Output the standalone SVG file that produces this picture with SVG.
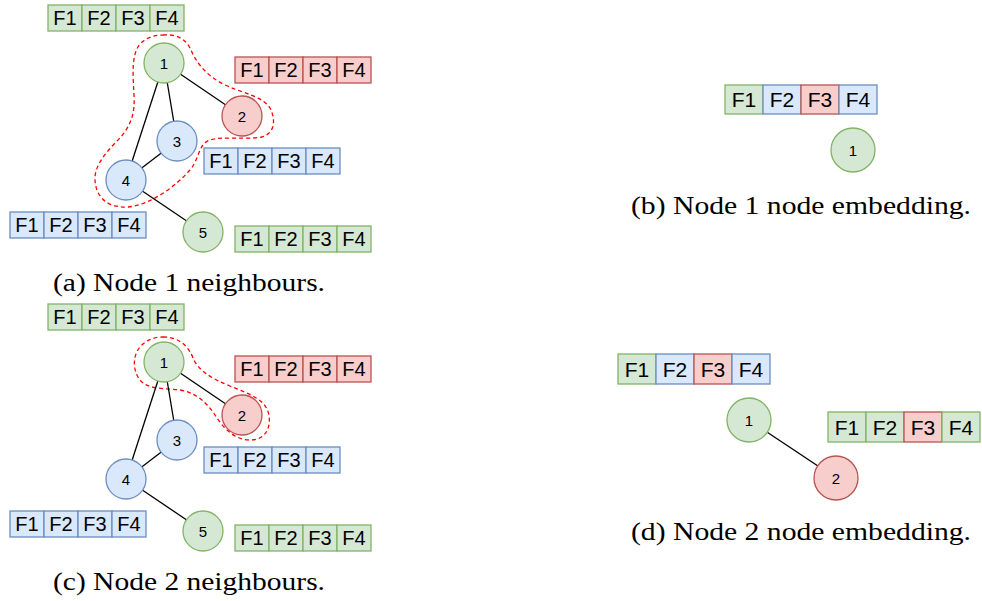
<svg xmlns="http://www.w3.org/2000/svg" width="982" height="601" viewBox="0 0 982 601">
  <style>
    .g { fill: #d5e8d4; stroke: #82b366; stroke-width: 1.3; }
    .r { fill: #f8cecc; stroke: #b85450; stroke-width: 1.3; }
    .b { fill: #dae8fc; stroke: #6c8ebf; stroke-width: 1.3; }
    .cell { font-family: "Liberation Sans", Arial, sans-serif; font-size: 20px; fill: #000; text-anchor: middle; }
    .cell.big { font-size: 21px; }
    .lbl { font-family: "Liberation Sans", Arial, sans-serif; font-size: 15px; fill: #000; text-anchor: middle; }
    .edge { stroke: #000; stroke-width: 1.3; fill: none; }
    .hood { stroke: #ff0000; stroke-width: 1.3; stroke-dasharray: 4 3; fill: none; }
    .cap { font-family: "Liberation Serif", "Times New Roman", serif; font-size: 26px; fill: #000; }
  </style>

  <!-- ===== (a) Node 1 neighbours ===== -->
  <g id="a-hood">
    <path class="hood" d="M163,35 C175,34 185,38 190,48 C196,62 205,75 225,85 C245,94 262,96 270,108 C276,120 275,133 262,137 C245,140 222,136 210,140 C198,144 200,158 190,170 C175,187 150,205 128,207 C108,208 96,198 95,180 C94,165 108,150 120,138 C132,124 135,112 134,95 C133,75 131,55 140,44 C147,37 155,35 163,35 Z"/>
  </g>
  <g id="a-edges">
    <line class="edge" x1="164" y1="63" x2="242" y2="116"/>
    <line class="edge" x1="164" y1="63" x2="177" y2="141"/>
    <line class="edge" x1="164" y1="63" x2="126" y2="180"/>
    <line class="edge" x1="177" y1="141" x2="126" y2="180"/>
    <line class="edge" x1="126" y1="180" x2="203" y2="232"/>
  </g>
  <g id="a-n1"><circle class="g" cx="164" cy="63" r="20"/><text class="lbl" x="164" y="68.5">1</text></g>
  <g id="a-n2"><circle class="r" cx="242" cy="116" r="20"/><text class="lbl" x="242" y="121.5">2</text></g>
  <g id="a-n3"><circle class="b" cx="177" cy="141" r="20"/><text class="lbl" x="177" y="146.5">3</text></g>
  <g id="a-n4"><circle class="b" cx="126" cy="180" r="20"/><text class="lbl" x="126" y="185.5">4</text></g>
  <g id="a-n5"><circle class="g" cx="203" cy="232" r="20"/><text class="lbl" x="203" y="237.5">5</text></g>

  <g id="a-f1">
    <rect class="g" x="48" y="5" width="34" height="26"/><rect class="g" x="82" y="5" width="34" height="26"/>
    <rect class="g" x="116" y="5" width="34" height="26"/><rect class="g" x="150" y="5" width="34" height="26"/>
    <text class="cell" x="65" y="25">F1</text><text class="cell" x="99" y="25">F2</text>
    <text class="cell" x="133" y="25">F3</text><text class="cell" x="167" y="25">F4</text>
  </g>
  <g id="a-f2">
    <rect class="r" x="235" y="57" width="34" height="26"/><rect class="r" x="269" y="57" width="34" height="26"/>
    <rect class="r" x="303" y="57" width="34" height="26"/><rect class="r" x="337" y="57" width="34" height="26"/>
    <text class="cell" x="252" y="77">F1</text><text class="cell" x="286" y="77">F2</text>
    <text class="cell" x="320" y="77">F3</text><text class="cell" x="354" y="77">F4</text>
  </g>
  <g id="a-f3">
    <rect class="b" x="204" y="148" width="34" height="26"/><rect class="b" x="238" y="148" width="34" height="26"/>
    <rect class="b" x="272" y="148" width="34" height="26"/><rect class="b" x="306" y="148" width="34" height="26"/>
    <text class="cell" x="221" y="168">F1</text><text class="cell" x="255" y="168">F2</text>
    <text class="cell" x="289" y="168">F3</text><text class="cell" x="323" y="168">F4</text>
  </g>
  <g id="a-f4">
    <rect class="b" x="10" y="212" width="34" height="26"/><rect class="b" x="44" y="212" width="34" height="26"/>
    <rect class="b" x="78" y="212" width="34" height="26"/><rect class="b" x="112" y="212" width="34" height="26"/>
    <text class="cell" x="27" y="232">F1</text><text class="cell" x="61" y="232">F2</text>
    <text class="cell" x="95" y="232">F3</text><text class="cell" x="129" y="232">F4</text>
  </g>
  <g id="a-f5">
    <rect class="g" x="235" y="226" width="34" height="26"/><rect class="g" x="269" y="226" width="34" height="26"/>
    <rect class="g" x="303" y="226" width="34" height="26"/><rect class="g" x="337" y="226" width="34" height="26"/>
    <text class="cell" x="252" y="246">F1</text><text class="cell" x="286" y="246">F2</text>
    <text class="cell" x="320" y="246">F3</text><text class="cell" x="354" y="246">F4</text>
  </g>
  <text class="cap" x="53" y="291" textLength="272" lengthAdjust="spacingAndGlyphs">(a) Node 1 neighbours.</text>

  <!-- ===== (c) Node 2 neighbours ===== -->
  <g id="c-hood">
    <path class="hood" d="M163,337 C178,337 188,345 193,358 C198,370 210,378 230,386 C252,395 266,400 269,415 C271,430 264,440 250,440 C236,440 225,430 217,418 C208,404 198,393 180,390 C165,388 148,390 140,380 C132,370 133,355 140,347 C146,340 154,337 163,337 Z"/>
  </g>
  <g id="c-edges">
    <line class="edge" x1="164" y1="362" x2="242" y2="415"/>
    <line class="edge" x1="164" y1="362" x2="177" y2="440"/>
    <line class="edge" x1="164" y1="362" x2="126" y2="479"/>
    <line class="edge" x1="177" y1="440" x2="126" y2="479"/>
    <line class="edge" x1="126" y1="479" x2="203" y2="531"/>
  </g>
  <g id="c-n1"><circle class="g" cx="164" cy="362" r="20"/><text class="lbl" x="164" y="367.5">1</text></g>
  <g id="c-n2"><circle class="r" cx="242" cy="415" r="20"/><text class="lbl" x="242" y="420.5">2</text></g>
  <g id="c-n3"><circle class="b" cx="177" cy="440" r="20"/><text class="lbl" x="177" y="445.5">3</text></g>
  <g id="c-n4"><circle class="b" cx="126" cy="479" r="20"/><text class="lbl" x="126" y="484.5">4</text></g>
  <g id="c-n5"><circle class="g" cx="203" cy="531" r="20"/><text class="lbl" x="203" y="536.5">5</text></g>

  <g id="c-f1">
    <rect class="g" x="48" y="304" width="34" height="26"/><rect class="g" x="82" y="304" width="34" height="26"/>
    <rect class="g" x="116" y="304" width="34" height="26"/><rect class="g" x="150" y="304" width="34" height="26"/>
    <text class="cell" x="65" y="324">F1</text><text class="cell" x="99" y="324">F2</text>
    <text class="cell" x="133" y="324">F3</text><text class="cell" x="167" y="324">F4</text>
  </g>
  <g id="c-f2">
    <rect class="r" x="235" y="356" width="34" height="26"/><rect class="r" x="269" y="356" width="34" height="26"/>
    <rect class="r" x="303" y="356" width="34" height="26"/><rect class="r" x="337" y="356" width="34" height="26"/>
    <text class="cell" x="252" y="376">F1</text><text class="cell" x="286" y="376">F2</text>
    <text class="cell" x="320" y="376">F3</text><text class="cell" x="354" y="376">F4</text>
  </g>
  <g id="c-f3">
    <rect class="b" x="204" y="447" width="34" height="26"/><rect class="b" x="238" y="447" width="34" height="26"/>
    <rect class="b" x="272" y="447" width="34" height="26"/><rect class="b" x="306" y="447" width="34" height="26"/>
    <text class="cell" x="221" y="467">F1</text><text class="cell" x="255" y="467">F2</text>
    <text class="cell" x="289" y="467">F3</text><text class="cell" x="323" y="467">F4</text>
  </g>
  <g id="c-f4">
    <rect class="b" x="10" y="511" width="34" height="26"/><rect class="b" x="44" y="511" width="34" height="26"/>
    <rect class="b" x="78" y="511" width="34" height="26"/><rect class="b" x="112" y="511" width="34" height="26"/>
    <text class="cell" x="27" y="531">F1</text><text class="cell" x="61" y="531">F2</text>
    <text class="cell" x="95" y="531">F3</text><text class="cell" x="129" y="531">F4</text>
  </g>
  <g id="c-f5">
    <rect class="g" x="235" y="525" width="34" height="26"/><rect class="g" x="269" y="525" width="34" height="26"/>
    <rect class="g" x="303" y="525" width="34" height="26"/><rect class="g" x="337" y="525" width="34" height="26"/>
    <text class="cell" x="252" y="545">F1</text><text class="cell" x="286" y="545">F2</text>
    <text class="cell" x="320" y="545">F3</text><text class="cell" x="354" y="545">F4</text>
  </g>
  <text class="cap" x="53" y="590" textLength="272" lengthAdjust="spacingAndGlyphs">(c) Node 2 neighbours.</text>

  <!-- ===== (b) Node 1 node embedding ===== -->
  <g id="b-f1">
    <rect class="g" x="725" y="85" width="38" height="29"/><rect class="b" x="763" y="85" width="38" height="29"/>
    <rect class="r" x="801" y="85" width="38" height="29"/><rect class="b" x="839" y="85" width="38" height="29"/>
    <text class="cell big" x="744" y="107">F1</text><text class="cell big" x="782" y="107">F2</text>
    <text class="cell big" x="820" y="107">F3</text><text class="cell big" x="858" y="107">F4</text>
  </g>
  <g id="b-n1"><circle class="g" cx="853" cy="150" r="22"/><text class="lbl" x="853" y="155.5">1</text></g>
  <text class="cap" x="631" y="214" textLength="340" lengthAdjust="spacingAndGlyphs">(b) Node 1 node embedding.</text>

  <!-- ===== (d) Node 2 node embedding ===== -->
  <g id="d-edges">
    <line class="edge" x1="749" y1="420" x2="836" y2="478"/>
  </g>
  <g id="d-n1"><circle class="g" cx="749" cy="420" r="22"/><text class="lbl" x="749" y="425.5">1</text></g>
  <g id="d-n2"><circle class="r" cx="836" cy="478" r="22"/><text class="lbl" x="836" y="483.5">2</text></g>
  <g id="d-f1">
    <rect class="g" x="618" y="354" width="38" height="30"/><rect class="b" x="656" y="354" width="38" height="30"/>
    <rect class="r" x="694" y="354" width="38" height="30"/><rect class="b" x="732" y="354" width="38" height="30"/>
    <text class="cell big" x="637" y="377">F1</text><text class="cell big" x="675" y="377">F2</text>
    <text class="cell big" x="713" y="377">F3</text><text class="cell big" x="751" y="377">F4</text>
  </g>
  <g id="d-f2">
    <rect class="g" x="828" y="412" width="38" height="30"/><rect class="g" x="866" y="412" width="38" height="30"/>
    <rect class="r" x="904" y="412" width="38" height="30"/><rect class="g" x="942" y="412" width="38" height="30"/>
    <text class="cell big" x="847" y="435">F1</text><text class="cell big" x="885" y="435">F2</text>
    <text class="cell big" x="923" y="435">F3</text><text class="cell big" x="961" y="435">F4</text>
  </g>
  <text class="cap" x="631" y="540" textLength="340" lengthAdjust="spacingAndGlyphs">(d) Node 2 node embedding.</text>
</svg>
